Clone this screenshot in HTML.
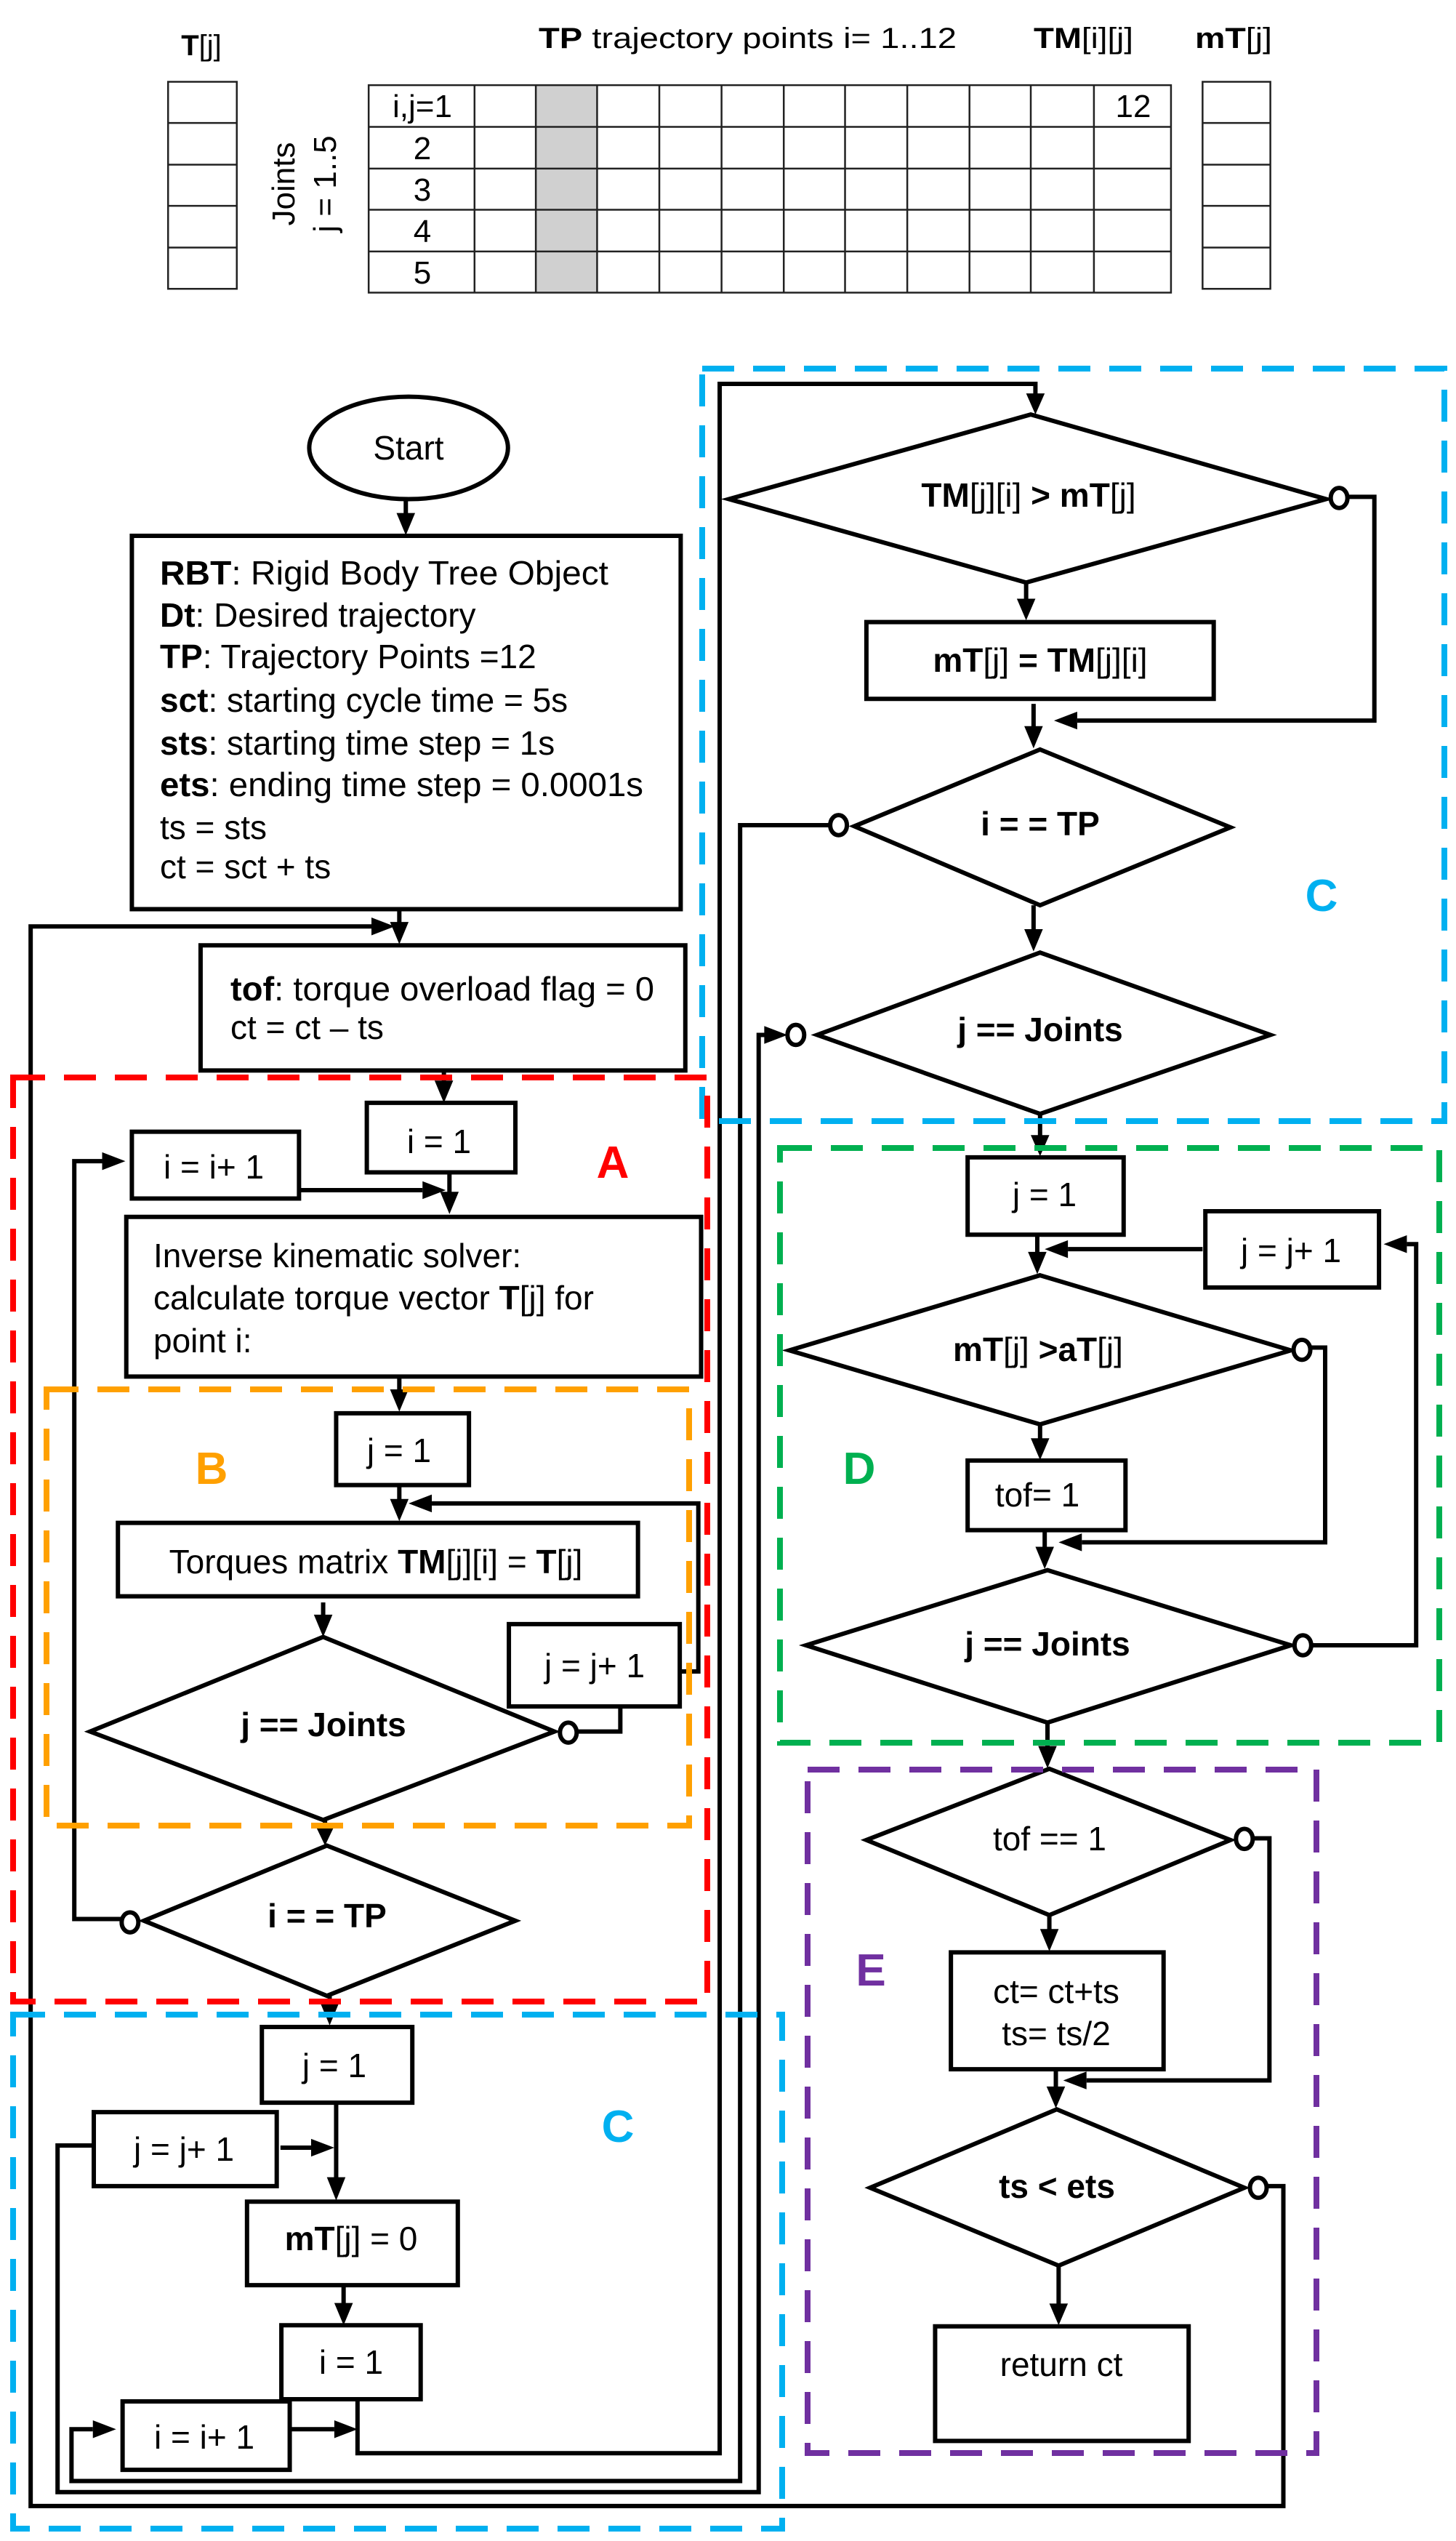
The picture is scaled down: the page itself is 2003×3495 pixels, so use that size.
<!DOCTYPE html>
<html><head><meta charset="utf-8"><style>
html,body{margin:0;padding:0;background:#fff}
svg{display:block}
text{font-family:"Liberation Sans",Arial,sans-serif;fill:#000}
.s{fill:none;stroke:#000;stroke-width:6;vector-effect:non-scaling-stroke;stroke-linejoin:miter}
.b{fill:#fff;stroke:#000;stroke-width:6;vector-effect:non-scaling-stroke}
.t{fill:none;stroke:#222;stroke-width:2.5;vector-effect:non-scaling-stroke}
.h{fill:#000;stroke:none}
.d{fill:none;stroke-width:8;stroke-dasharray:44 26}
</style></head><body>
<svg width="2003" height="3495" viewBox="0 0 2003 3495" xmlns="http://www.w3.org/2000/svg">
<rect width="2003" height="3495" fill="#fff"/>
<g transform="scale(1.2775,0.7653)">
<!-- top table -->
<rect x="577" y="153" width="66" height="373" fill="#d0d0d0"/>
<rect class="t" x="181" y="147" width="74" height="372"/>
<path class="t" d="M181 221H255M181 296H255M181 370H255M181 445H255"/>
<rect class="t" x="1295" y="147" width="73" height="372"/>
<path class="t" d="M1295 221H1368M1295 296H1368M1295 370H1368M1295 445H1368"/>
<rect class="t" x="397" y="153" width="864" height="373"/>
<path class="t" d="M397 228H1261M397 303H1261M397 377H1261M397 452H1261M511 153V526M577 153V526M643 153V526M710 153V526M777 153V526M844 153V526M910 153V526M977 153V526M1044 153V526M1110 153V526M1178 153V526"/>

<!-- left flow -->
<ellipse class="b" cx="440" cy="805" rx="107" ry="92"/>
<path class="s" d="M437 897V930"/><polygon class="h" points="427,922 447,922 437,962"/>
<rect class="b" x="142" y="963" width="591" height="671"/>
<path class="s" d="M430 1634V1665"/><polygon class="h" points="420,1657 440,1657 430,1697"/>
<path class="s" d="M1365 3929H1382V4504H33V1665H400"/><polygon class="h" points="400,1649 400,1681 425,1665"/>
<rect class="b" x="216" y="1699" width="522" height="225"/>
<path class="s" d="M478 1924V1950"/><polygon class="h" points="468,1942 488,1942 478,1982"/>
<rect class="b" x="395" y="1982" width="160" height="125"/>
<rect class="b" x="142" y="2034" width="180" height="120"/>
<path class="s" d="M322 2139H455"/><polygon class="h" points="455,2123 455,2155 480,2139"/>
<path class="s" d="M484 2107V2150"/><polygon class="h" points="474,2142 494,2142 484,2182"/>
<path class="s" d="M130 3449H80V2087H110"/><polygon class="h" points="110,2071 110,2103 135,2087"/>
<rect class="b" x="136" y="2187" width="619" height="287"/>
<path class="s" d="M430 2474V2505"/><polygon class="h" points="420,2497 440,2497 430,2537"/>
<rect class="b" x="362" y="2540" width="143" height="129"/>
<path class="s" d="M430 2669V2702"/><polygon class="h" points="420,2694 440,2694 430,2734"/>
<path class="s" d="M732 3004H752V2702H465"/><polygon class="h" points="465,2686 465,2718 440,2702"/>
<rect class="b" x="127" y="2737" width="560" height="132"/>
<path class="s" d="M348 2880V2910"/><polygon class="h" points="338,2902 358,2902 348,2942"/>
<rect class="b" x="548" y="2919" width="184" height="148"/>
<polygon class="b" points="348,2942 597,3112 348,3271 97,3112"/>
<path class="s" d="M622 3112H668V3067"/>
<ellipse class="b" cx="612" cy="3114" rx="9" ry="18"/>
<path class="s" d="M350 3271V3290"/><polygon class="h" points="340,3282 360,3282 350,3317"/>
<polygon class="b" points="352,3317 555,3452 352,3587 155,3452"/>
<ellipse class="b" cx="140" cy="3455" rx="9" ry="18"/>
<path class="s" d="M355 3587V3605"/><polygon class="h" points="345,3600 365,3600 355,3640"/>
<rect class="b" x="282" y="3643" width="162" height="136"/>
<rect class="b" x="101" y="3796" width="197" height="133"/>
<path class="s" d="M302 3860H335"/><polygon class="h" points="335,3844 335,3876 360,3860"/>
<path class="s" d="M362 3779V3920"/><polygon class="h" points="352,3913 372,3913 362,3955"/>
<rect class="b" x="266" y="3957" width="227" height="150"/>
<path class="s" d="M370 4107V4145"/><polygon class="h" points="360,4139 380,4139 370,4179"/>
<rect class="b" x="303" y="4179" width="150" height="133"/>
<rect class="b" x="132" y="4316" width="180" height="123"/>
<path class="s" d="M312 4366H360"/><polygon class="h" points="360,4350 360,4382 385,4366"/>
<path class="s" d="M385 4312V4409H775V690H1115V715"/><polygon class="h" points="1105,707 1125,707 1115,745"/>
<path class="s" d="M893 1483H797V4459H77V4366H100"/><polygon class="h" points="100,4350 100,4382 125,4366"/>
<path class="s" d="M101 3856H62V4479H817V1860H825"/><polygon class="h" points="823,1844 823,1876 848,1860"/>

<!-- right flow -->
<polygon class="b" points="1110,745 1428,897 1105,1047 785,897"/>
<ellipse class="b" cx="1442" cy="895" rx="9" ry="18"/>
<path class="s" d="M1452 893H1480V1295H1160"/><polygon class="h" points="1160,1279 1160,1311 1135,1295"/>
<path class="s" d="M1105 1047V1080"/><polygon class="h" points="1095,1076 1115,1076 1105,1115"/>
<rect class="b" x="933" y="1118" width="374" height="138"/>
<path class="s" d="M1113 1265V1310"/><polygon class="h" points="1103,1305 1123,1305 1113,1345"/>
<polygon class="b" points="1120,1347 1325,1487 1120,1627 920,1485"/>
<ellipse class="b" cx="903" cy="1483" rx="9" ry="18"/>
<path class="s" d="M1113 1627V1675"/><polygon class="h" points="1103,1670 1123,1670 1113,1710"/>
<polygon class="b" points="1120,1712 1368,1860 1120,2002 880,1860"/>
<ellipse class="b" cx="857" cy="1860" rx="9" ry="18"/>
<path class="s" d="M1120 2002V2045"/><polygon class="h" points="1110,2040 1130,2040 1120,2078"/>
<rect class="b" x="1042" y="2080" width="168" height="139"/>
<path class="s" d="M1117 2219V2255"/><polygon class="h" points="1107,2250 1127,2250 1117,2290"/>
<rect class="b" x="1298" y="2177" width="187" height="137"/>
<path class="s" d="M1295 2245H1150"/><polygon class="h" points="1150,2229 1150,2261 1125,2245"/>
<polygon class="b" points="1120,2292 1390,2427 1120,2560 850,2427"/>
<ellipse class="b" cx="1402" cy="2426" rx="9" ry="18"/>
<path class="s" d="M1412 2422H1427V2772H1165"/><polygon class="h" points="1165,2756 1165,2788 1140,2772"/>
<path class="s" d="M1120 2560V2590"/><polygon class="h" points="1110,2585 1130,2585 1120,2624"/>
<rect class="b" x="1042" y="2625" width="170" height="125"/>
<path class="s" d="M1125 2750V2785"/><polygon class="h" points="1115,2780 1135,2780 1125,2820"/>
<polygon class="b" points="1128,2822 1390,2957 1128,3096 868,2957"/>
<ellipse class="b" cx="1403" cy="2957" rx="9" ry="18"/>
<path class="s" d="M1413 2957H1525V2236H1515"/><polygon class="h" points="1515,2220 1515,2252 1490,2236"/>
<path class="s" d="M1128 3096V3140"/><polygon class="h" points="1118,3138 1138,3138 1128,3178"/>
<polygon class="b" points="1130,3179 1325,3307 1130,3442 933,3307"/>
<ellipse class="b" cx="1340" cy="3305" rx="9" ry="18"/>
<path class="s" d="M1350 3304H1367V3739H1170"/><polygon class="h" points="1170,3723 1170,3755 1145,3739"/>
<path class="s" d="M1130 3442V3470"/><polygon class="h" points="1120,3467 1140,3467 1130,3507"/>
<rect class="b" x="1024" y="3509" width="229" height="210"/>
<path class="s" d="M1137 3719V3755"/><polygon class="h" points="1127,3750 1147,3750 1137,3789"/>
<polygon class="b" points="1138,3791 1340,3932 1140,4072 937,3932"/>
<ellipse class="b" cx="1355" cy="3932" rx="9" ry="18"/>
<path class="s" d="M1140 4072V4145"/><polygon class="h" points="1130,4140 1150,4140 1140,4179"/>
<rect class="b" x="1007" y="4181" width="273" height="206"/>
</g>

<!-- dashed group boxes -->
<rect class="d" x="966" y="507" width="1021" height="1035" stroke="#00b0f0"/>
<rect class="d" x="18" y="1482" width="955" height="1271" stroke="#ff0000"/>
<rect class="d" x="64" y="1911" width="884" height="600" stroke="#ffa000"/>
<rect class="d" x="1073" y="1579" width="907" height="818" stroke="#00b050"/>
<rect class="d" x="1111" y="2434" width="700" height="940" stroke="#7030a0"/>
<rect class="d" x="18" y="2771" width="1058" height="707" stroke="#00b0f0"/>

<!-- top text -->
<g font-size="40">
<text x="277" y="76" text-anchor="middle" font-weight="bold">T<tspan font-weight="normal">[j]</tspan></text>
<text x="741" y="66" textLength="575" lengthAdjust="spacingAndGlyphs"><tspan font-weight="bold">TP</tspan> trajectory points i= 1..12</text>
<text x="1422" y="66" textLength="137" lengthAdjust="spacingAndGlyphs"><tspan font-weight="bold">TM</tspan>[i][j]</text>
<text x="1644" y="66" textLength="106" lengthAdjust="spacingAndGlyphs" font-weight="bold">mT<tspan font-weight="normal">[j]</tspan></text>
</g>
<g font-size="44" text-anchor="middle">
<text x="581" y="161">i,j=1</text>
<text x="581" y="219">2</text>
<text x="581" y="276">3</text>
<text x="581" y="333">4</text>
<text x="581" y="390">5</text>
<text x="1559" y="161">12</text>
<text transform="translate(405,253) rotate(-90)">Joints</text>
<text transform="translate(462,253) rotate(-90)">j = 1..5</text>
</g>

<!-- flow text -->
<g font-size="46">
<text x="562" y="632" text-anchor="middle">Start</text>
<text x="220" y="804" textLength="617" lengthAdjust="spacingAndGlyphs"><tspan font-weight="bold">RBT</tspan>: Rigid Body Tree Object</text>
<text x="220" y="862"><tspan font-weight="bold">Dt</tspan>: Desired trajectory</text>
<text x="220" y="919"><tspan font-weight="bold">TP</tspan>: Trajectory Points =12</text>
<text x="220" y="979"><tspan font-weight="bold">sct</tspan>: starting cycle time = 5s</text>
<text x="220" y="1038"><tspan font-weight="bold">sts</tspan>: starting time step = 1s</text>
<text x="220" y="1095" textLength="665" lengthAdjust="spacingAndGlyphs"><tspan font-weight="bold">ets</tspan>: ending time step = 0.0001s</text>
<text x="220" y="1154">ts = sts</text>
<text x="220" y="1208">ct = sct + ts</text>
<text x="317" y="1376" textLength="583" lengthAdjust="spacingAndGlyphs"><tspan font-weight="bold">tof</tspan>: torque overload flag = 0</text>
<text x="317" y="1429">ct = ct – ts</text>
<text x="211" y="1743">Inverse kinematic solver:</text>
<text x="211" y="1801">calculate torque vector <tspan font-weight="bold">T</tspan>[j] for</text>
<text x="211" y="1860">point i:</text>
</g>
<g font-size="46" text-anchor="middle">
<text x="604" y="1586">i = 1</text>
<text x="294" y="1621">i = i+ 1</text>
<text x="549" y="2011">j = 1</text>
<text x="517" y="2164">Torques matrix <tspan font-weight="bold">TM</tspan>[j][i] =  <tspan font-weight="bold">T</tspan>[j]</text>
<text x="818" y="2307">j = j+ 1</text>
<text x="445" y="2388" font-weight="bold">j == Joints</text>
<text x="450" y="2651" font-weight="bold">i = = TP</text>
<text x="460" y="2857">j = 1</text>
<text x="253" y="2972">j = j+ 1</text>
<text x="483" y="3095"><tspan font-weight="bold">mT</tspan>[j] =  0</text>
<text x="483" y="3265">i = 1</text>
<text x="281" y="3368">i = i+ 1</text>
<text x="1415" y="697" font-weight="bold">TM<tspan font-weight="normal">[j][i]</tspan> &gt; mT<tspan font-weight="normal">[j]</tspan></text>
<text x="1431" y="924" font-weight="bold">mT<tspan font-weight="normal">[j]</tspan> = TM<tspan font-weight="normal">[j][i]</tspan></text>
<text x="1431" y="1149" font-weight="bold">i = = TP</text>
<text x="1431" y="1432" font-weight="bold">j == Joints</text>
<text x="1437" y="1659">j = 1</text>
<text x="1776" y="1736">j = j+ 1</text>
<text x="1428" y="1872" font-weight="bold">mT<tspan font-weight="normal">[j]</tspan> &gt;aT<tspan font-weight="normal">[j]</tspan></text>
<text x="1427" y="2072">tof= 1</text>
<text x="1441" y="2277" font-weight="bold">j == Joints</text>
<text x="1444" y="2545">tof == 1</text>
<text x="1453" y="2755">ct= ct+ts</text>
<text x="1453" y="2813">ts= ts/2</text>
<text x="1454" y="3023" font-weight="bold">ts &lt; ets</text>
<text x="1460" y="3268">return ct</text>
</g>
<g font-size="62" font-weight="bold" text-anchor="middle">
<text x="843" y="1620" style="fill:#ff0000">A</text>
<text x="291" y="2041" style="fill:#ffa000">B</text>
<text x="1818" y="1253" style="fill:#00b0f0">C</text>
<text x="850" y="2946" style="fill:#00b0f0">C</text>
<text x="1182" y="2041" style="fill:#00b050">D</text>
<text x="1198" y="2731" style="fill:#7030a0">E</text>
</g>
</svg>
</body></html>
